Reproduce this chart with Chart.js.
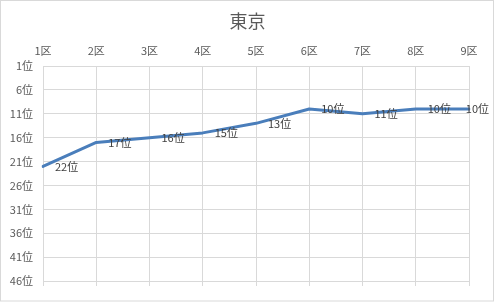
<!DOCTYPE html>
<html>
<head>
<meta charset="utf-8">
<script src="https://cdn.jsdelivr.net/npm/chart.js@4"></script>
<style>
  html, body { margin: 0; padding: 0; background: #fff; }
  canvas { display: block; }
</style>
</head>
<body>
<canvas id="c" width="495" height="302"></canvas>
<script>
// 区ごとの順位（東京）
const districts = ['1区', '2区', '3区', '4区', '5区', '6区', '7区', '8区', '9区'];
const ranks = [22, 17, 16, 15, 13, 10, 11, 10, 10];
const rankTicks = [1, 6, 11, 16, 21, 26, 31, 36, 41, 46];
const chartTitle = '東京';

const FONT = '"Noto Sans CJK JP", "Noto Sans", sans-serif';
const GRID = '#d9d9d9';

// white background and thin frame around the chart area
const framePlugin = {
  id: 'frame',
  beforeDraw(chart) {
    const ctx = chart.ctx;
    ctx.save();
    ctx.fillStyle = '#fff';
    ctx.fillRect(0, 0, chart.width, chart.height);
    ctx.strokeStyle = GRID;
    ctx.lineWidth = 1;
    ctx.strokeRect(0.5, 0.5, 493, 300.5);
    ctx.restore();
  }
};

// value labels placed to the right of each point
const valueLabels = {
  id: 'valueLabels',
  afterDatasetsDraw(chart) {
    const ctx = chart.ctx;
    const meta = chart.getDatasetMeta(0);
    ctx.save();
    ctx.font = '11px ' + FONT;
    ctx.fillStyle = '#404040';
    ctx.textAlign = 'left';
    ctx.textBaseline = 'middle';
    meta.data.forEach((pt, i) => {
      const text = ranks[i] + '位';
      const w = ctx.measureText(text).width;
      let x = pt.x + 12;
      if (x + w > 489) x = 489 - w;
      ctx.fillText(text, x, pt.y);
    });
    ctx.restore();
  }
};

new Chart(document.getElementById('c'), {
  type: 'line',
  data: {
    labels: districts,
    datasets: [{
      data: ranks,
      borderColor: '#4a7ebb',
      borderWidth: 3,
      tension: 0,
      pointRadius: 0,
      pointHoverRadius: 0,
      borderJoinStyle: 'round',
      borderCapStyle: 'round',
      fill: false,
      xAxisID: 'x',
      yAxisID: 'y'
    }]
  },
  options: {
    responsive: false,
    animation: false,
    devicePixelRatio: 1,
    layout: { padding: { left: 0, right: 0, top: 0, bottom: 16 } },
    plugins: {
      legend: { display: false },
      tooltip: { enabled: false },
      title: {
        display: true,
        text: chartTitle,
        color: '#595959',
        font: { family: FONT, size: 18, weight: 'normal' },
        padding: { top: 10, bottom: 4 }
      }
    },
    scales: {
      x: {
        type: 'category',
        position: 'top',
        offset: false,
        grid: { color: GRID, lineWidth: 1, drawTicks: false },
        border: { display: false },
        ticks: {
          color: '#595959',
          font: { family: FONT, size: 11 },
          padding: 9,
          maxRotation: 0,
          autoSkip: false
        },
        afterFit(scale) { scale.height = 66 - 35.6; }
      },
      xb: {
        type: 'category',
        position: 'bottom',
        offset: false,
        grid: { color: GRID, lineWidth: 1, drawOnChartArea: false, drawTicks: true, tickLength: 5 },
        border: { display: false },
        ticks: { display: false },
        afterFit(scale) { scale.height = 5; }
      },
      y: {
        type: 'linear',
        reverse: true,
        min: 1,
        max: 46,
        grid: { color: GRID, lineWidth: 1, drawTicks: false },
        border: { display: false },
        afterBuildTicks(scale) {
          scale.ticks = rankTicks.map(v => ({ value: v }));
        },
        ticks: {
          color: '#595959',
          font: { family: FONT, size: 11 },
          padding: 10,
          callback: v => v + '位'
        },
        afterFit(scale) { scale.width = 43; }
      },
      // empty margin on the right side of the plot
      yr: {
        type: 'linear',
        position: 'right',
        grid: { display: false },
        border: { display: false },
        ticks: { display: false },
        afterFit(scale) { scale.width = 26; }
      }
    }
  },
  plugins: [framePlugin, valueLabels]
});
</script>
</body>
</html>
